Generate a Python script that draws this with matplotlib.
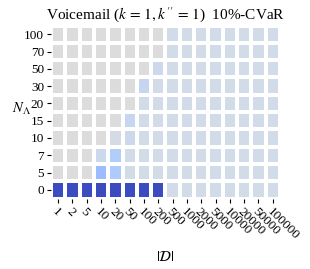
import numpy as np
import matplotlib
matplotlib.use("Agg")
import matplotlib.pyplot as plt

plt.rcParams["font.family"] = ["Liberation Serif", "DejaVu Serif"]
plt.rcParams["mathtext.fontset"] = "stix"

# dataset sizes (columns) and N_Lambda values (rows, bottom to top)
d_sizes = ["1", "2", "5", "10", "20", "50", "100", "200", "500", "1000",
           "2000", "5000", "10000", "20000", "50000", "100000"]
n_lambda = ["0", "5", "7", "10", "15", "20", "30", "50", "70", "100"]

# colour value per cell on coolwarm (0.5 = neutral grey), rows bottom to top
G = 0.50   # grey
B = 0.46   # pale blue-grey
vals = [
    [0.00, 0.00, 0.00, 0.00, 0.00, 0.00, 0.00, 0.00, B, B, B, B, B, B, B, B],      # 0
    [G, G, G, 0.29, 0.35, B, B, B, B, B, B, B, B, B, B, B],                      # 5
    [G, G, G, 0.44, 0.36, B, B, B, B, B, B, B, B, B, B, B],                      # 7
    [G, G, G, G, 0.47, 0.44, B, B, B, B, B, B, B, B, B, B],                      # 10
    [G, G, G, G, G, 0.42, B, B, B, B, B, B, B, B, B, B],                         # 15
    [G, G, G, G, G, G, B, B, B, B, B, B, B, B, B, B],                            # 20
    [G, G, G, G, G, G, 0.42, B, B, B, B, B, B, B, B, B],                         # 30
    [G, G, G, G, G, G, G, 0.44, B, B, B, B, B, B, B, B],                         # 50
    [G, G, G, G, G, G, G, G, B, B, B, B, B, B, B, B],                            # 70
    [G, G, G, G, G, G, G, G, B, B, B, B, B, B, B, B],                            # 100
]

fig = plt.figure(figsize=(3.1, 2.69), dpi=100)
ax = fig.add_axes([0.1645, 0.262, 0.7385, 0.643])

data = np.array(vals)
ax.pcolormesh(data, cmap="coolwarm", vmin=0, vmax=1,
              edgecolors="white", linewidth=1.6)

ax.set_xticks(np.arange(len(d_sizes)) + 0.5)
ax.set_xticklabels(d_sizes, rotation=-45, ha="left", va="top",
                   rotation_mode="anchor", fontsize=9.5)
ax.set_yticks(np.arange(len(n_lambda)) + 0.5)
ax.set_yticklabels(n_lambda, fontsize=9.5)
ax.tick_params(length=3, width=0.8, pad=2)
for s in ax.spines.values():
    s.set_visible(False)

ax.set_title(r"Voicemail ($k\,=\,1, k''\,=\,1$)  10%-CVaR", fontsize=11, pad=5)
ax.set_xlabel(r"$|\mathcal{D}|$", fontsize=10.5, labelpad=6)
ax.set_ylabel(r"$N_\Lambda$", fontsize=10.5, rotation=0, labelpad=2)
ax.yaxis.set_label_coords(-0.13, 0.47)

fig.savefig("out.png", dpi=100)
